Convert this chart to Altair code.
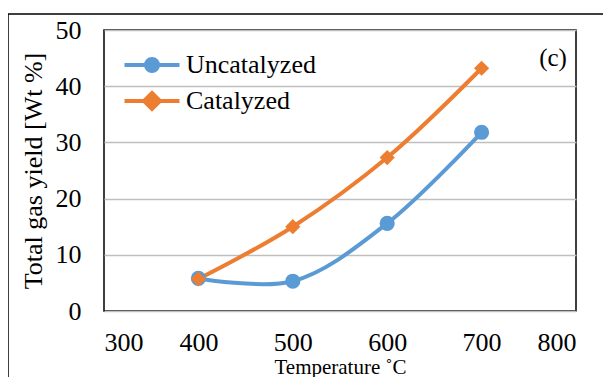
import altair as alt
import pandas as pd

temps = [400, 500, 600, 700]
uncat = [5.8, 5.3, 15.6, 31.8]
cat = [5.7, 15.0, 27.3, 43.2]
series = ["Uncatalyzed", "Catalyzed"]
colors = ["#5B9BD5", "#ED7D31"]
x_ticks = [300, 400, 500, 600, 700, 800]
y_ticks = [0, 10, 20, 30, 40, 50]
panel_label = "(c)"

df = pd.DataFrame({
    "T": temps * 2,
    "y": uncat + cat,
    "series": [series[0]] * len(temps) + [series[1]] * len(temps),
})

W, H = 472, 281
FONT = "Liberation Serif"
FS = 26

circ_path = "M-5.5,0H5.5M1.2,0A1.2,1.2,0,1,1,-1.2,0A1.2,1.2,0,1,1,1.2,0Z"
diam_path = "M-5.5,0H5.5M0,-1.6L1.6,0L0,1.6L-1.6,0Z"

xenc = alt.X("T:Q", scale=alt.Scale(domain=[300, 800], nice=False),
             axis=alt.Axis(values=x_ticks, title="Temperature ˚C", grid=False,
                           ticks=False, domain=False, labelPadding=18, titlePadding=1,
                           titleFontSize=21))
yenc = alt.Y("y:Q", scale=alt.Scale(domain=[0, 50], nice=False),
             axis=alt.Axis(values=y_ticks, title="Total gas yield [Wt %]",
                           ticks=False, domain=False, labelPadding=23, titlePadding=9,
                           gridColor="#BFBFBF", gridWidth=1.5))
cscale = alt.Scale(domain=series, range=colors)


def mk_legend():
    return alt.Legend(title=None, orient="none", legendX=35, legendY=22,
                      labelFont=FONT, labelFontSize=FS, labelColor="black",
                      labelOffset=21, symbolSize=100, symbolStrokeWidth=4,
                      symbolOpacity=1, rowPadding=6)


lines = alt.Chart(df).mark_line(interpolate="catmull-rom", strokeWidth=4).encode(
    x=xenc, y=yenc, color=alt.Color("series:N", scale=cscale, legend=mk_legend()))

pts_u = alt.Chart(df).transform_filter(alt.datum.series == series[0]).mark_point(
    filled=True, opacity=1, size=230, shape="circle", color=colors[0]).encode(x="T:Q", y="y:Q")
pts_c = alt.Chart(df).transform_filter(alt.datum.series == series[1]).mark_point(
    filled=True, opacity=1, size=230, shape="diamond", color=colors[1]).encode(x="T:Q", y="y:Q")

leg = alt.Chart(df).mark_point(strokeWidth=4, opacity=0).encode(
    x="T:Q", y="y:Q",
    color=alt.Color("series:N", scale=cscale, legend=mk_legend()),
    fill=alt.Fill("series:N", scale=cscale, legend=mk_legend()),
    stroke=alt.Stroke("series:N", scale=cscale, legend=mk_legend()),
    shape=alt.Shape("series:N", scale=alt.Scale(domain=series, range=[circ_path, diam_path]),
                    legend=mk_legend()),
)

label = alt.Chart(pd.DataFrame({"t": [panel_label]})).mark_text(
    font=FONT, fontSize=25, align="center", baseline="middle", color="black").encode(
    text="t:N", x=alt.value(449), y=alt.value(28))

frame = alt.Chart(pd.DataFrame({"a": [0]})).mark_rect(
    fill=None, stroke="black", strokeWidth=1.5, clip=False).encode(
    x=alt.value(-96), x2=alt.value(700), y=alt.value(-16), y2=alt.value(500))

chart = alt.layer(frame, lines, pts_u, pts_c, leg, label).properties(
    width=W, height=H, background="white",
    autosize=alt.AutoSizeParams(type="none"),
    padding={"left": 96, "top": 22, "right": 27, "bottom": 66},
).configure_view(stroke="black", strokeWidth=1.5).configure_axis(
    labelFont=FONT, labelFontSize=FS, labelColor="black",
    titleFont=FONT, titleFontSize=FS, titleColor="black", titleFontWeight="normal",
).configure_legend(
    labelFont=FONT, labelFontSize=FS, labelColor="black", labelOffset=21,
    symbolSize=100, symbolStrokeWidth=4, symbolOpacity=1, rowPadding=6,
)

chart.save("out.html", embed_options={"renderer": "svg", "actions": False})
